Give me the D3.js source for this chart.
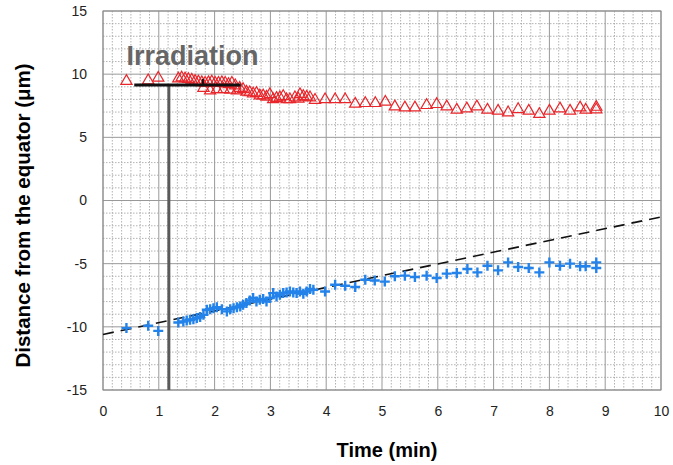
<!DOCTYPE html>
<html>
<head>
<meta charset="utf-8">
<script src="https://cdn.jsdelivr.net/npm/d3@7"></script>
<style>
  body { margin: 0; background: #fff; }
  text { font-family: "Liberation Sans", Arial, sans-serif; }
</style>
</head>
<body>
<div id="chart"></div>
<script>
// ---- data ----
let xTicks = [0, 1, 2, 3, 4, 5, 6, 7, 8, 9, 10];
let yTicks = [-15, -10, -5, 0, 5, 10, 15];

// red triangles (upper pole)
let redTime = [0.42, 0.81, 0.99, 1.35, 1.41, 1.47, 1.53, 1.59, 1.65, 1.71, 1.77, 1.80, 1.83, 1.89, 1.92, 1.95,
    2.01, 2.04, 2.07, 2.13, 2.16, 2.19, 2.25, 2.28, 2.31, 2.37, 2.40, 2.45, 2.51, 2.57, 2.63, 2.69, 2.75,
    2.81, 2.87, 2.93, 2.99, 3.05, 3.11, 3.17, 3.23, 3.29, 3.35, 3.44, 3.50, 3.53, 3.59, 3.65, 3.71, 3.80,
    3.98, 4.16, 4.34, 4.52, 4.70, 4.88, 5.06, 5.23, 5.41, 5.59, 5.80, 5.98, 6.16, 6.34, 6.52, 6.70, 6.89,
    7.08, 7.26, 7.44, 7.63, 7.82, 8.00, 8.19, 8.37, 8.55, 8.65, 8.84, 8.84];
let redDist = [9.45, 9.5, 9.7, 9.65, 9.72, 9.65, 9.6, 9.55, 9.45, 9.4, 9.35, 8.9, 9.3, 9.35, 8.7, 9.4,
    9.3, 8.8, 9.3, 9.35, 8.8, 9.3, 9.2, 8.75, 9.3, 9.1, 8.7, 8.9, 8.8, 8.6, 8.55, 8.45, 8.5,
    8.3, 8.3, 8.2, 8.4, 8.0, 8.1, 8.15, 8.25, 8.0, 8.0, 8.15, 8.05, 8.4, 8.25, 8.2, 8.15, 7.95,
    8.0, 8.0, 8.0, 7.65, 7.7, 7.7, 7.8, 7.43, 7.35, 7.35, 7.54, 7.62, 7.43, 7.17, 7.27, 7.43, 7.17,
    7.09, 6.96, 7.22, 7.09, 6.83, 7.09, 7.27, 7.09, 7.35, 7.17, 7.2, 7.4];

// blue crosses (lower pole)
let blueTime = [0.42, 0.81, 0.99, 1.35, 1.44, 1.50, 1.56, 1.62, 1.68, 1.74, 1.80, 1.86, 1.92, 1.98, 2.04,
    2.13, 2.22, 2.28, 2.34, 2.40, 2.46, 2.51, 2.57, 2.63, 2.69, 2.75, 2.81, 2.87, 2.93, 2.99, 3.05, 3.11,
    3.17, 3.23, 3.29, 3.35, 3.41, 3.47, 3.53, 3.59, 3.65, 3.71, 3.77, 3.98, 4.16, 4.34, 4.52, 4.70, 4.87,
    5.05, 5.23, 5.41, 5.59, 5.80, 5.98, 6.16, 6.34, 6.53, 6.71, 6.89, 7.08, 7.26, 7.44, 7.63, 7.82, 8.00,
    8.19, 8.37, 8.55, 8.65, 8.84, 8.84];
let blueDist = [-10.1, -9.92, -10.32, -9.66, -9.58, -9.5, -9.44, -9.39, -9.31, -9.23, -9.05, -8.65, -8.6, -8.52, -8.44,
    -8.6, -8.78, -8.6, -8.52, -8.44, -8.39, -8.25, -8.12, -7.91, -7.72, -7.99, -7.86, -7.8, -7.99, -7.72, -7.33, -7.59,
    -7.46, -7.33, -7.28, -7.2, -7.28, -7.33, -7.2, -7.38, -7.2, -7.01, -7.06, -7.2, -6.67, -6.75, -6.85, -6.27, -6.33,
    -6.42, -6.0, -5.95, -6.06, -5.95, -6.14, -5.79, -5.74, -5.42, -5.69, -5.16, -5.53, -4.9, -5.26, -5.34, -5.69, -4.9,
    -5.16, -5.0, -5.21, -5.21, -4.9, -5.34];

// dashed fit line end points
let fitTime = [0, 10];
let fitDist = [-10.6, -1.3];

// irradiation marker
let irrTime = [0.56, 2.47];
let irrDist = 9.15;
let irrTick = 1.79;
let irrStart = 1.18;

// ---- drawing ----
let margin = {top: 11, right: 12, bottom: 75, left: 103};
let W = 673, H = 465;
let width = W - margin.left - margin.right;
let height = H - margin.top - margin.bottom;

let svg = d3.select("#chart").append("svg")
    .attr("width", W)
    .attr("height", H);

let g = svg.append("g")
    .attr("transform", `translate(${margin.left},${margin.top})`);

let x = d3.scaleLinear().domain([0, 10]).range([0, width]);
let y = d3.scaleLinear().domain([-15, 15]).range([height, 0]);

// minor grid: every 10 s on x, every 1 µm on y
let xMinor = d3.range(0, 61).map(i => i / 6).filter(d => Math.abs(d - Math.round(d)) > 1e-6);
let yMinor = d3.range(-15, 16).filter(d => d % 5 !== 0);

g.append("g").selectAll("line")
    .data(xMinor).enter().append("line")
    .attr("x1", d => x(d)).attr("x2", d => x(d))
    .attr("y1", 0).attr("y2", height)
    .attr("stroke", "#a0a0a0").attr("stroke-width", 0.8)
    .attr("stroke-dasharray", "1.5,1.5");

g.append("g").selectAll("line")
    .data(yMinor).enter().append("line")
    .attr("x1", 0).attr("x2", width)
    .attr("y1", d => y(d)).attr("y2", d => y(d))
    .attr("stroke", "#a0a0a0").attr("stroke-width", 0.8)
    .attr("stroke-dasharray", "1.5,1.5");

// major grid
g.append("g").selectAll("line")
    .data(xTicks).enter().append("line")
    .attr("x1", d => x(d)).attr("x2", d => x(d))
    .attr("y1", 0).attr("y2", height)
    .attr("stroke", "#999").attr("stroke-width", 1);

g.append("g").selectAll("line")
    .data(yTicks).enter().append("line")
    .attr("x1", 0).attr("x2", width)
    .attr("y1", d => y(d)).attr("y2", d => y(d))
    .attr("stroke", "#999").attr("stroke-width", 1);

g.append("rect")
    .attr("width", width).attr("height", height)
    .attr("fill", "none").attr("stroke", "#8a8a8a").attr("stroke-width", 1);

// axes (labels only, no domain)
let xAxis = g.append("g")
    .attr("transform", `translate(0,${height})`)
    .call(d3.axisBottom(x).tickValues(xTicks).tickSize(0).tickPadding(16).tickFormat(d => String(d)));
let yAxis = g.append("g")
    .call(d3.axisLeft(y).tickValues(yTicks).tickSize(0).tickPadding(16).tickFormat(d => String(d)));
[xAxis, yAxis].forEach(a => {
    a.select(".domain").remove();
    a.selectAll("text")
        .style("font-family", "'Liberation Sans', Arial, sans-serif")
        .style("font-size", "14px")
        .attr("fill", "#222");
});

// axis titles
svg.append("text")
    .attr("x", margin.left + width / 2 + 5)
    .attr("y", 457)
    .attr("text-anchor", "middle")
    .style("font-size", "20px")
    .style("font-weight", "bold")
    .text("Time (min)");

svg.append("text")
    .attr("transform", `translate(30,${margin.top + height / 2 + 15}) rotate(-90)`)
    .attr("text-anchor", "middle")
    .style("font-size", "20.5px")
    .style("font-weight", "bold")
    .text("Distance from the equator (μm)");

// irradiation start line
g.append("line")
    .attr("x1", x(irrStart)).attr("x2", x(irrStart))
    .attr("y1", y(irrDist)).attr("y2", height)
    .attr("stroke", "#5a5a5a").attr("stroke-width", 3);

// fit line
g.append("path")
    .datum(fitTime.map((t, i) => [t, fitDist[i]]))
    .attr("d", d3.line().x(d => x(d[0])).y(d => y(d[1])))
    .attr("fill", "none")
    .attr("stroke", "#111")
    .attr("stroke-width", 1.6)
    .attr("stroke-dasharray", "11,7");

// red triangles
let tri = d3.symbol().type(d3.symbolTriangle).size(55);
g.append("g").selectAll("path")
    .data(redTime.map((t, i) => [t, redDist[i]]))
    .enter().append("path")
    .attr("d", tri)
    .attr("transform", d => `translate(${x(d[0])},${y(d[1])})`)
    .attr("fill", "none")
    .attr("stroke", "#e8262b")
    .attr("stroke-width", 1.2);

// blue crosses
g.append("g").selectAll("path")
    .data(blueTime.map((t, i) => [t, blueDist[i]]))
    .enter().append("path")
    .attr("d", "M-5,0H5M0,-5V5")
    .attr("transform", d => `translate(${x(d[0])},${y(d[1])})`)
    .attr("fill", "none")
    .attr("stroke", "#2383ea")
    .attr("stroke-width", 2.4);

// irradiation bar
g.append("line")
    .attr("x1", x(irrTime[0])).attr("x2", x(irrTime[1]))
    .attr("y1", y(irrDist)).attr("y2", y(irrDist))
    .attr("stroke", "#111").attr("stroke-width", 3);
g.append("line")
    .attr("x1", x(irrTick)).attr("x2", x(irrTick))
    .attr("y1", y(irrDist) - 6).attr("y2", y(irrDist) + 1)
    .attr("stroke", "#111").attr("stroke-width", 2);

g.append("text")
    .attr("x", x(0.42))
    .attr("y", y(10.75))
    .style("font-size", "27px")
    .style("font-weight", "bold")
    .attr("fill", "#666")
    .text("Irradiation");
</script>
</body>
</html>
